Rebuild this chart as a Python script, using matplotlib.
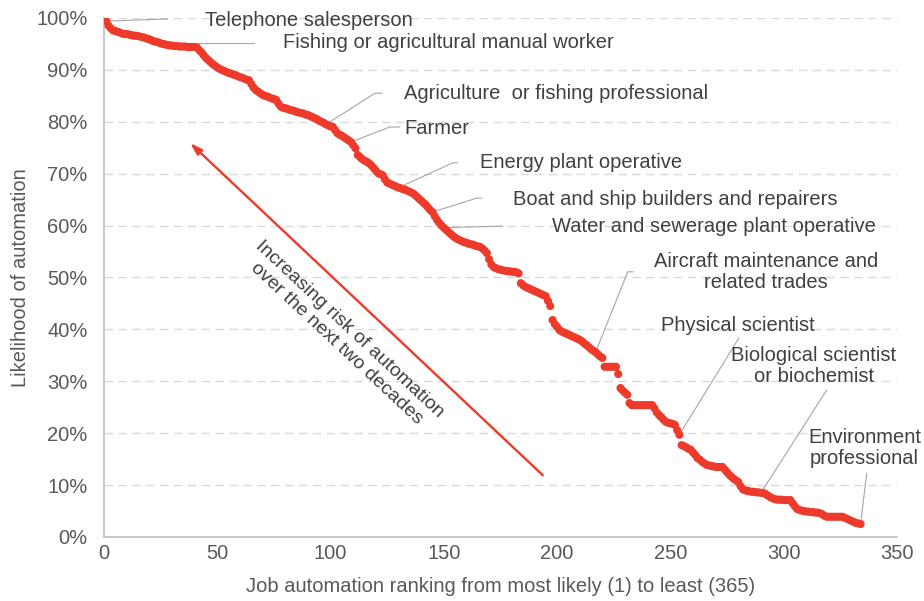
import matplotlib

matplotlib.use("Agg")
import matplotlib.pyplot as plt
import numpy as np

# Likelihood of automation (%) by ranking
likelihood = [
    99.4, 98.5, 98.0, 97.6, 97.5, 97.3, 97.2, 97.0, 96.9, 96.9,
    96.8, 96.7, 96.6, 96.6, 96.5, 96.4, 96.3, 96.2, 96.0, 95.9,
    95.7, 95.5, 95.4, 95.3, 95.1, 95.0, 94.9, 94.8, 94.7, 94.7,
    94.6, 94.6, 94.5, 94.5, 94.5, 94.5, 94.4, 94.4, 94.4, 94.4,
    94.3, 93.8, 93.4, 92.8, 92.3, 91.9, 91.5, 91.1, 90.8, 90.5,
    90.2, 90.0, 89.8, 89.6, 89.4, 89.3, 89.1, 89.0, 88.8, 88.6,
    88.5, 88.3, 88.1, 88.0, 87.3, 86.6, 86.1, 85.8, 85.5, 85.2,
    85.0, 84.9, 84.7, 84.5, 84.4, 84.2, 83.5, 82.9, 82.7, 82.6,
    82.5, 82.3, 82.2, 82.1, 81.9, 81.8, 81.7, 81.6, 81.4, 81.3,
    81.1, 80.9, 80.7, 80.5, 80.2, 80.0, 79.8, 79.5, 79.3, 79.1,
    79.0, 78.4, 77.8, 77.5, 77.3, 77.0, 76.7, 76.4, 76.1, 75.5,
    74.9, 73.6, 73.2, 72.8, 72.5, 72.3, 72.0, 71.6, 71.1, 70.6,
    70.1, 69.9, 69.7, 68.9, 68.3, 68.1, 67.9, 67.7, 67.5, 67.3,
    67.2, 67.0, 66.9, 66.7, 66.5, 66.3, 66.0, 65.6, 65.2, 64.8,
    64.4, 64.0, 63.5, 63.0, 62.6, 61.8, 61.1, 60.5, 60.0, 59.6,
    59.2, 58.8, 58.4, 58.0, 57.7, 57.4, 57.2, 57.0, 56.8, 56.7,
    56.5, 56.4, 56.3, 56.1, 56.0, 55.9, 55.6, 55.2, 54.7, 53.5,
    52.5, 52.0, 51.8, 51.6, 51.5, 51.4, 51.3, 51.2, 51.2, 51.1,
    51.1, 51.0, 50.8, 48.9, 48.5, 48.2, 48.0, 47.8, 47.6, 47.4,
    47.2, 47.0, 46.8, 46.6, 46.4, 45.5, 44.5, 41.8, 41.0, 40.5,
    39.9, 39.6, 39.4, 39.2, 39.0, 38.8, 38.6, 38.4, 38.2, 38.0,
    37.7, 37.3, 37.0, 36.6, 36.2, 35.9, 35.6, 35.2, 34.8, 34.5,
    32.8, 32.8, 32.8, 32.8, 32.8, 32.8, 31.4, 28.7, 28.2, 27.8,
    27.4, 25.8, 25.4, 25.4, 25.4, 25.4, 25.4, 25.4, 25.4, 25.4,
    25.4, 25.4, 24.8, 24.0, 23.5, 23.1, 22.6, 22.2, 22.0, 21.9,
    21.8, 21.6, 20.6, 19.7, 17.7, 17.5, 17.3, 17.0, 16.8, 16.3,
    15.8, 15.2, 14.9, 14.5, 14.2, 13.9, 13.8, 13.7, 13.6, 13.5,
    13.5, 13.5, 13.5, 13.0, 12.5, 12.0, 11.6, 11.2, 10.9, 10.6,
    9.8, 9.2, 9.0, 8.9, 8.8, 8.7, 8.7, 8.6, 8.6, 8.5,
    8.5, 8.3, 8.0, 7.7, 7.5, 7.3, 7.2, 7.2, 7.2, 7.1,
    7.1, 7.1, 7.1, 6.5, 5.9, 5.4, 5.2, 5.1, 5.0, 4.9,
    4.9, 4.8, 4.8, 4.7, 4.7, 4.6, 4.4, 4.1, 3.9, 3.9,
    3.9, 3.9, 3.9, 3.9, 3.9, 3.9, 3.7, 3.5, 3.3, 3.1,
    2.9, 2.7, 2.6, 2.5,
]
ranking = np.arange(1, len(likelihood) + 1)

# highlighted jobs and their ranking
job_names = [
    "Telephone salesperson",
    "Fishing or agricultural manual worker",
    "Agriculture  or fishing professional",
    "Farmer",
    "Energy plant operative",
    "Boat and ship builders and repairers",
    "Water and sewerage plant operative",
    "Aircraft maintenance and\nrelated trades",
    "Physical scientist",
    "Biological scientist\nor biochemist",
    "Environment\nprofessional",
]
job_ranks = [1, 25, 98, 109, 130, 145, 150, 217, 254, 290, 334]

# layout of the callouts: leader path (in data units) and text anchor
leader_paths = [
    [(28, 99.8)],
    [(66, None)],
    [(119.6, 85.5), (122.7, 85.5)],
    [(126.2, 79.0), (130.6, 79.0)],
    [(154.0, 72.1), (156.0, 72.1)],
    [(164.6, 65.3), (166.8, 65.3)],
    [(176.0, 59.9)],
    [(231.2, 51.1), (233.5, 51.1)],
    [(280.2, 38.3)],
    [(319.0, 28.3)],
    [(336.7, 12.3)],
]
text_pos = [
    (44.6, 99.6, "left"),
    (79.0, 95.2, "left"),
    (132.4, 85.5, "left"),
    (132.4, 78.8, "left"),
    (165.9, 72.1, "left"),
    (180.5, 65.1, "left"),
    (197.7, 59.9, "left"),
    (292.1, 51.1, "center"),
    (245.8, 40.8, "left"),
    (313.3, 32.9, "center"),
    (335.8, 17.1, "center"),
]

RED = "#EE3A2A"
TEXT = "#404040"
TICK = "#595959"
FS = 14.5

plt.rcParams["font.family"] = ["Liberation Sans", "DejaVu Sans"]

fig = plt.figure(figsize=(9.24, 6.01), dpi=100)
ax = fig.add_axes([0.1126, 0.1065, 0.858, 0.8636])

ax.scatter(ranking, likelihood, s=34, color=RED, edgecolors="none", zorder=3)

for name, rank, path, (tx, ty, ha) in zip(job_names, job_ranks, leader_paths, text_pos):
    y0 = likelihood[rank - 1]
    xs = [rank]
    ys = [y0]
    for px, py in path:
        xs.append(px)
        ys.append(y0 if py is None else py)
    ax.plot(xs, ys, color="#A6A6A6", lw=0.8, zorder=2, clip_on=False)
    ax.text(tx, ty, name, ha=ha, va="center", fontsize=FS, color=TEXT,
            linespacing=1.15, multialignment="center")

# arrow and its caption
ax.annotate("", xy=(38, 75.9), xytext=(193.7, 11.9),
            arrowprops=dict(arrowstyle="-|>,head_length=0.7,head_width=0.22",
                            color=RED, lw=1.7, shrinkA=0, shrinkB=0))
ax.text(105.5, 38.6, "Increasing risk of automation\nover the next two decades",
        rotation=-43, ha="center", va="center", rotation_mode="anchor",
        fontsize=14, color=TEXT, linespacing=1.2)

ax.set_xlim(0, 350)
ax.set_ylim(0, 100)
ax.set_xticks(np.arange(0, 351, 50))
ax.set_yticks(np.arange(0, 101, 10))
ax.set_yticklabels([f"{v}%" for v in range(0, 101, 10)])
ax.tick_params(length=0, labelsize=FS, labelcolor=TICK)
ax.tick_params(axis="y", pad=12)
ax.tick_params(axis="x", pad=5)

ax.grid(axis="y", color="#D9D9D9", linestyle=(0, (6, 4)), lw=1)
ax.set_axisbelow(True)
for side in ["top", "right"]:
    ax.spines[side].set_visible(False)
for side in ["left", "bottom"]:
    ax.spines[side].set_color("#BFBFBF")
    ax.spines[side].set_linewidth(1.2)

ax.set_xlabel("Job automation ranking from most likely (1) to least (365)",
              fontsize=FS, color=TICK, labelpad=10)
ax.set_ylabel("Likelihood of automation", fontsize=FS, color=TICK, labelpad=4)

fig.savefig("out.png", dpi=100)
